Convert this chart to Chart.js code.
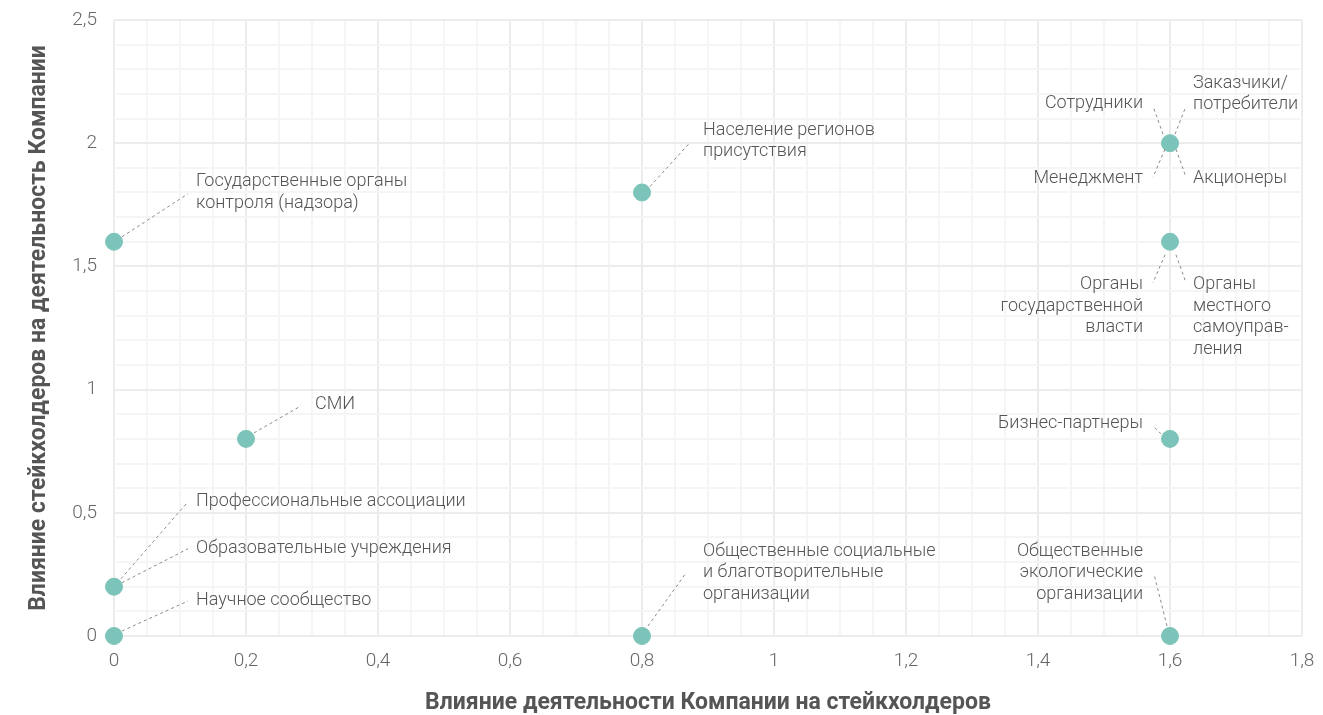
<!DOCTYPE html>
<html>
<head>
<meta charset="utf-8">
<script src="https://cdn.jsdelivr.net/npm/chart.js@4"></script>
<style>
    html, body { margin: 0; padding: 0; background: #fff; }
    #wrap { width: 1323px; height: 715px; }
</style>
</head>
<body>
<div id="wrap"><canvas id="matrix"></canvas></div>
<script>
// stakeholder points: influence of company (x) vs influence of stakeholder (y)
const xValues = [0, 0.8, 1.6, 1.6, 0.2, 1.6, 0, 0, 0.8, 1.6];
const yValues = [1.6, 1.8, 2, 1.6, 0.8, 0.8, 0.2, 0, 0, 0];

const xTicks = [0, 0.2, 0.4, 0.6, 0.8, 1, 1.2, 1.4, 1.6, 1.8];
const yTicks = [0, 0.5, 1, 1.5, 2, 2.5];

const xTitle = 'Влияние деятельности Компании на стейкхолдеров';
const yTitle = 'Влияние стейкхолдеров на деятельность Компании';

// callout texts, one entry per label (point index, lines)
const calloutPoint = [0, 1, 2, 2, 2, 2, 3, 3, 4, 5, 6, 6, 7, 8, 9];
const calloutText = [
    ['Государственные органы', 'контроля (надзора)'],
    ['Население регионов', 'присутствия'],
    ['Сотрудники'],
    ['Заказчики/', 'потребители'],
    ['Менеджмент'],
    ['Акционеры'],
    ['Органы', 'государственной', 'власти'],
    ['Органы', 'местного', 'самоуправ-', 'ления'],
    ['СМИ'],
    ['Бизнес-партнеры'],
    ['Профессиональные ассоциации'],
    ['Образовательные учреждения'],
    ['Научное сообщество'],
    ['Общественные социальные', 'и благотворительные', 'организации'],
    ['Общественные', 'экологические', 'организации']
];

// layout of each callout relative to its point: leader start, leader end, text anchor, alignment
const calloutLayout = [
    { a: [8, -5], b: [74, -48], t: [82, -60], align: 'left' },
    { a: [8, -6], b: [48, -50], t: [61, -62], align: 'left' },
    { a: [-7, -9], b: [-17, -37], t: [-27, -40], align: 'right' },
    { a: [5, -9], b: [16, -37], t: [23, -60], align: 'left' },
    { a: [-5, 6], b: [-17, 34], t: [-27, 35], align: 'right' },
    { a: [6, 6], b: [16, 34], t: [23, 35], align: 'left' },
    { a: [-5, 13], b: [-17, 41], t: [-27, 43], align: 'right' },
    { a: [6, 13], b: [16, 41], t: [23, 43], align: 'left' },
    { a: [8, -6], b: [55, -33], t: [69, -34], align: 'left' },
    { a: [-9, -5], b: [-16, -12], t: [-27, -15], align: 'right' },
    { a: [7, -8], b: [74, -85], t: [82, -85], align: 'left' },
    { a: [8, -4], b: [74, -38], t: [82, -38], align: 'left' },
    { a: [8, -5], b: [74, -35], t: [82, -36], align: 'left' },
    { a: [6, -10], b: [44, -63], t: [61, -85], align: 'left' },
    { a: [-3, -10], b: [-16, -62], t: [-27, -85], align: 'right' }
];

const isMultiple = (v, step) => Math.abs(v / step - Math.round(v / step)) < 1e-6;
const comma = v => String(Math.round(v * 10) / 10).replace('.', ',');

const calloutPlugin = {
    id: 'callouts',
    afterDatasetsDraw(chart) {
        const ctx = chart.ctx;
        const meta = chart.getDatasetMeta(0);
        ctx.save();
        ctx.font = '300 18px Roboto, "Open Sans", sans-serif';
        ctx.textBaseline = 'middle';
        calloutText.forEach((lines, i) => {
            const p = meta.data[calloutPoint[i]];
            const l = calloutLayout[i];
            ctx.strokeStyle = '#8a8a8a';
            ctx.lineWidth = 1;
            ctx.setLineDash([3, 3]);
            ctx.beginPath();
            ctx.moveTo(p.x + l.a[0], p.y + l.a[1]);
            ctx.lineTo(p.x + l.b[0], p.y + l.b[1]);
            ctx.stroke();
            ctx.setLineDash([]);
            ctx.fillStyle = '#555';
            ctx.textAlign = l.align;
            lines.forEach((line, j) => {
                ctx.fillText(line, p.x + l.t[0], p.y + l.t[1] + j * 21.5);
            });
        });
        ctx.restore();
    }
};

const points = xValues.map((x, i) => ({ x: x, y: yValues[i] }));

new Chart(document.getElementById('matrix').getContext('2d'), {
    type: 'scatter',
    data: {
        datasets: [{
            data: points,
            backgroundColor: '#7cc4b9',
            borderColor: '#7cc4b9',
            pointRadius: 8.5,
            pointHoverRadius: 8.5
        }]
    },
    options: {
        responsive: true,
        maintainAspectRatio: false,
        animation: false,
        clip: false,
        layout: { padding: { top: 20, right: 21, left: 0, bottom: 0 } },
        plugins: {
            legend: { display: false },
            tooltip: { enabled: false }
        },
        scales: {
            x: {
                type: 'linear',
                min: 0,
                max: 1.8,
                afterBuildTicks: scale => {
                    const ticks = [];
                    for (let k = 0; k <= 36; k++) ticks.push({ value: k * 0.05 });
                    scale.ticks = ticks;
                },
                afterFit: scale => {
                    scale.height = 79;
                    scale.paddingLeft = 0;
                    scale.paddingRight = 0;
                },
                border: { display: false },
                grid: {
                    drawTicks: false,
                    lineWidth: 2,
                    color: c => isMultiple(c.tick.value, 0.2) ? '#ececec' : '#f5f5f5'
                },
                ticks: {
                    autoSkip: false,
                    maxRotation: 0,
                    padding: 14,
                    color: '#666',
                    font: { family: 'Roboto', weight: '300', size: 19 },
                    callback: v => xTicks.some(t => Math.abs(t - v) < 1e-6) ? comma(v) : ''
                },
                title: {
                    display: true,
                    text: xTitle,
                    color: '#555',
                    padding: { top: 0, bottom: 0 },
                    font: { family: 'Roboto', weight: 'bold', size: 23, lineHeight: 1 }
                }
            },
            y: {
                type: 'linear',
                min: 0,
                max: 2.5,
                afterBuildTicks: scale => {
                    const ticks = [];
                    for (let k = 0; k <= 25; k++) ticks.push({ value: k * 0.1 });
                    scale.ticks = ticks;
                },
                afterFit: scale => {
                    scale.width = 114;
                    scale.paddingTop = 0;
                    scale.paddingBottom = 0;
                },
                border: { display: false },
                grid: {
                    drawTicks: false,
                    lineWidth: 2,
                    color: c => isMultiple(c.tick.value, 0.5) ? '#ececec' : '#f5f5f5'
                },
                ticks: {
                    autoSkip: false,
                    padding: 17,
                    color: '#666',
                    font: { family: 'Roboto', weight: '300', size: 19 },
                    callback: v => yTicks.some(t => Math.abs(t - v) < 1e-6) ? comma(v) : ''
                },
                title: {
                    display: true,
                    text: yTitle,
                    color: '#555',
                    padding: { top: 28, bottom: 0 },
                    font: { family: 'Roboto', weight: 'bold', size: 23, lineHeight: 1 }
                }
            }
        }
    },
    plugins: [calloutPlugin]
});
</script>
</body>
</html>
